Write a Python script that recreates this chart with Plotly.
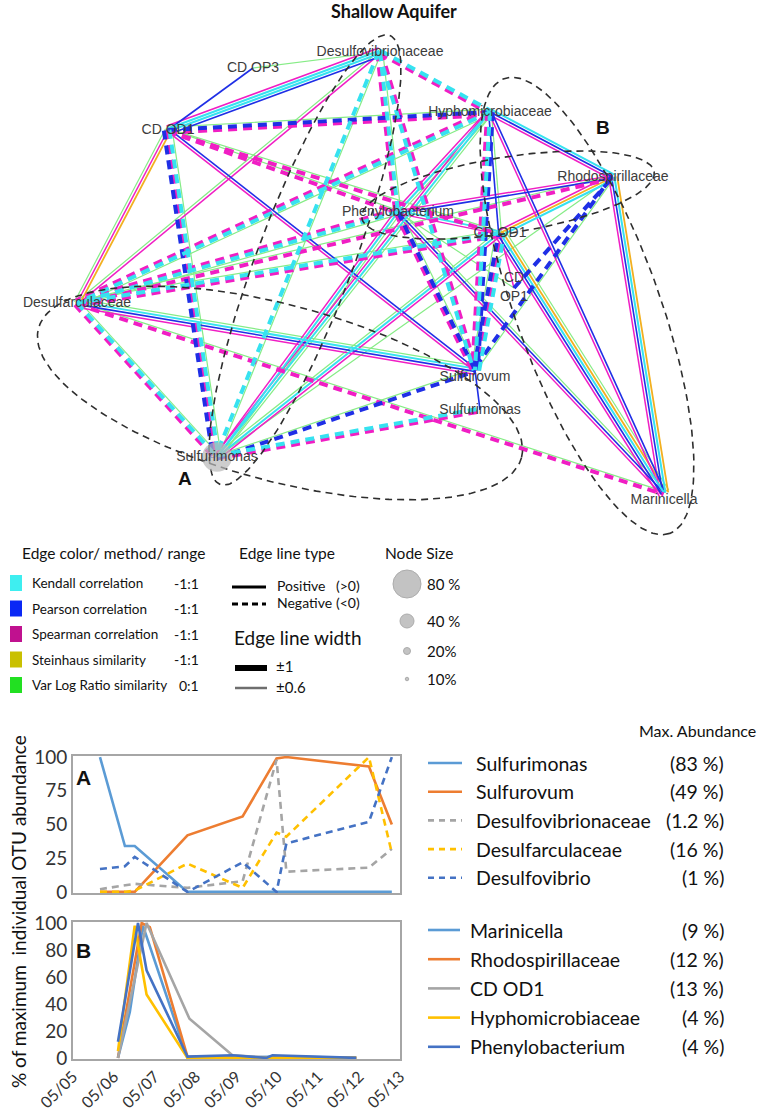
import numpy as np
import plotly.graph_objects as go

W, H = 764, 1116
NARROW = "Lato, sans-serif"
SANS = "Liberation Sans, Arial, sans-serif"

# ---------------- network data ----------------
node_ids = ["DV", "OP3", "OD1L", "HY", "RH", "PH", "OD1R", "OP1", "DF", "SV", "SM2", "SM", "MA"]
node_labels = ["Desulfovibrionaceae", "CD OP3", "CD OD1", "Hyphomicrobiaceae", "Rhodospirillaceae",
               "Phenylobacterium", "CD OD1", "CD<br>OP1", "Desulfarculaceae", "Sulfurovum",
               "Sulfurimonas", "Sulfurimonas", "Marinicella"]
node_x = [380, 253, 168, 490, 613, 398, 500, 514, 77, 475, 480, 217, 664]
node_y = [52, 68, 130, 112, 177, 212, 233, 288, 303, 370, 410, 457, 493]
node_pct = [0, 0, 12, 0, 0, 0, 0, 0, 0, 0, 0, 85, 0]
node_text_pos = ["middle center"] * 9 + ["bottom center", "middle center", "middle center", "bottom center"]

# edges: (node a, node b, methods with sign)  K=Kendall P=Pearson S=Spearman H=Steinhaus V=VarLogRatio
edges = [
    ("OD1L", "OP3", "P+"),
    ("DV", "OP3", "V+"),
    ("OD1L", "DV", "S+ K+ K+ P+"),
    ("OD1L", "HY", "V+ P- S-"),
    ("OD1L", "OD1R", "V+ S-"),
    ("OD1L", "DF", "H+ S+ V+"),
    ("OD1L", "SM", "V+ K- S- P-"),
    ("OD1L", "SV", "P+ S+"),
    ("OD1L", "PH", "V+ S-"),
    ("DV", "HY", "K- S-"),
    ("DV", "DF", "S+ V+"),
    ("DV", "SM", "V+ K-"),
    ("DV", "PH", "V+ K- S-"),
    ("DV", "SV", "S- K-"),
    ("HY", "RH", "K+ P+ S+"),
    ("HY", "DF", "V+ K- S-"),
    ("HY", "SM", "V+ K+ S+"),
    ("HY", "SV", "P- K- S-"),
    ("HY", "MA", "P+ S+"),
    ("HY", "OD1R", "V+ P+"),
    ("HY", "PH", "V+ K+ S+"),
    ("RH", "PH", "P+ S+"),
    ("RH", "DF", "S- V+"),
    ("RH", "OD1R", "K+ H+ S+"),
    ("RH", "MA", "H+ K+ P+ S+"),
    ("RH", "SV", "V+ P-"),
    ("PH", "DF", "V+ K- S-"),
    ("PH", "SM", "V+ K+ S+"),
    ("PH", "MA", "V+ P+ S+"),
    ("PH", "SV", "V+ P- S-"),
    ("PH", "OD1R", "K+ S+"),
    ("DF", "SV", "V+ K+ P+ S+"),
    ("DF", "SM", "V+ K- S-"),
    ("DF", "MA", "V+ S-"),
    ("DF", "OD1R", "V+ K- S-"),
    ("SM", "SV", "V+ P-"),
    ("SM", "SM2", "K- S-"),
    ("SM", "OD1R", "V+ K+ S+"),
    ("SM", "RH", "V+"),
    ("SV", "SM2", "P+"),
    ("SV", "OD1R", "V+ P- S- K-"),
    ("OD1R", "MA", "V+ H+ K+ P+ S+"),
    ("OD1R", "OP1", "S+"),
    ("OP1", "RH", "P-"),
    ("OP1", "PH", "V+"),
]

# grouping ellipses: centre x, centre y, semi-major, semi-minor, angle (deg)
groups = [
    (280, 393, 250, 88, 15),
    (305, 260, 240, 48, 110.7),
    (508, 195, 148, 38, -9),
    (587, 306, 242, 72, 70),
]

method_names = ["Kendall correlation", "Pearson correlation", "Spearman correlation",
                "Steinhaus similarity", "Var Log Ratio similarity"]
method_ranges = ["-1:1", "-1:1", "-1:1", "-1:1", "0:1"]
edge_colors = {"K": "#36E2F0", "P": "#1F2FE6", "S": "#F01EC4", "H": "#F2B020", "V": "#86EC86"}
square_colors = ["#3EEEF0", "#0A28F5", "#C0118F", "#C9C000", "#22E022"]
solid_width = {"K": 2.0, "P": 1.6, "S": 1.5, "H": 1.8, "V": 1.2}
node_size_pcts = [80, 40, 20, 10]
node_size_labels = ["80 %", "40 %", "20%", "10%"]

# ---------------- time-series data ----------------
tick_days = [5, 6, 7, 8, 9, 10, 11, 12, 13]
tick_labels = ["05/05", "05/06", "05/07", "05/08", "05/09", "05/10", "05/11", "05/12", "05/13"]

A_days = [5.66, 6.27, 6.51, 7.80, 9.15, 9.98, 10.22, 12.24, 12.80]
A_sulfurimonas = [100, 34, 34, 0, 0, 0, 0, 0, 0]
A_sulfurovum = [0, 0, 0, 42, 56, 99, 100, 93, 50]
A_desulfovibrionaceae = [2, 5, 6, 3, 8, 98, 15, 18, 32]
A_desulfarculaceae = [0, 0, 1, 21, 3, 44, 41, 100, 29]
A_desulfovibrio = [17, 19, 26, 0, 22, 0, 36, 52, 100]
A_names = ["Sulfurimonas", "Sulfurovum", "Desulfovibrionaceae", "Desulfarculaceae", "Desulfovibrio"]
A_maxab = ["(83 %)", "(49 %)", "(1.2 %)", "(16 %)", "(1 %)"]

B_marinicella_days = [6.10, 6.39, 6.71, 7.80, 8.90, 9.93, 11.93]
B_marinicella = [0, 34, 98, 0, 0, 1, 0]
B_rhodo_days = [6.10, 6.68, 6.88, 7.80, 8.90, 11.93]
B_rhodo = [0, 100, 97, 1, 0, 0]
B_cdod1_days = [6.10, 6.80, 7.85, 8.90, 9.93, 11.93]
B_cdod1 = [0, 100, 29, 2, 0, 0]
B_hypho_days = [6.10, 6.51, 6.80, 7.80, 8.90, 11.93]
B_hypho = [5, 98, 47, 0, 0, 0]
B_pheny_days = [6.10, 6.59, 6.80, 7.80, 8.90, 9.73, 9.88, 11.93]
B_pheny = [12, 100, 65, 1, 2, 0, 2, 0]
B_names = ["Marinicella", "Rhodospirillaceae", "CD OD1", "Hyphomicrobiaceae", "Phenylobacterium"]
B_maxab = ["(9 %)", "(12 %)", "(13 %)", "(4 %)", "(4 %)"]

line_colors = ["#5B9BD5", "#ED7D31", "#A5A5A5", "#FFC000", "#4472C4"]
A_dash = ["solid", "solid", "7px,5px", "7px,5px", "7px,5px"]

# ---------------- figure ----------------
fig = go.Figure()

# network edges
pos = dict(zip(node_ids, zip(node_x, node_y)))
segs = {}
for a, b, codes in edges:
    items = codes.split()
    n = len(items)
    (xa, ya), (xb, yb) = pos[a], pos[b]
    L = np.hypot(xb - xa, yb - ya)
    nx, ny = -(yb - ya) / L, (xb - xa) / L
    for i, it in enumerate(items):
        off = (i - (n - 1) / 2) * 2.8
        key = (it[0], it[1])
        lst = segs.setdefault(key, ([], []))
        lst[0].extend([xa + nx * off, xb + nx * off, None])
        lst[1].extend([ya + ny * off, yb + ny * off, None])

draw_order = [("V", "+"), ("H", "+"), ("S", "+"), ("P", "+"), ("K", "+"),
              ("V", "-"), ("S", "-"), ("P", "-"), ("K", "-")]
for key in draw_order:
    if key not in segs:
        continue
    xs, ys = segs[key]
    m, sgn = key
    if sgn == "+":
        line = dict(color=edge_colors[m], width=solid_width[m])
    else:
        line = dict(color=edge_colors[m], width=4, dash="9px,6px")
    fig.add_trace(go.Scatter(x=xs, y=ys, mode="lines", line=line, hoverinfo="skip",
                             showlegend=False, xaxis="x", yaxis="y"))

# grouping ellipses
ex, ey = [], []
t = np.linspace(0, 2 * np.pi, 200)
for cx, cy, a, b, ang in groups:
    r = np.deg2rad(ang)
    ux, uy = np.cos(r), np.sin(r)
    vx, vy = -np.sin(r), np.cos(r)
    ex.extend(list(cx + a * np.cos(t) * ux + b * np.sin(t) * vx) + [None])
    ey.extend(list(cy + a * np.cos(t) * uy + b * np.sin(t) * vy) + [None])
fig.add_trace(go.Scatter(x=ex, y=ey, mode="lines", line=dict(color="#2E2E2E", width=1.6, dash="7px,5px"),
                         hoverinfo="skip", showlegend=False, xaxis="x", yaxis="y"))

# nodes
node_colors = ["#B8B8B8"] * len(node_ids)
node_colors[node_ids.index("OD1L")] = "#3A48C8"
fig.add_trace(go.Scatter(x=node_x, y=node_y, mode="markers",
                         marker=dict(size=[p * 0.35 for p in node_pct], color=node_colors, line=dict(width=0)),
                         hoverinfo="skip", showlegend=False, xaxis="x", yaxis="y"))
fig.add_trace(go.Scatter(x=node_x, y=node_y, mode="text", text=node_labels, textposition=node_text_pos,
                         textfont=dict(family=SANS, size=14, color="#3C3C3C"),
                         hoverinfo="skip", showlegend=False, xaxis="x", yaxis="y"))

ann = []
shapes = []


def text(x, y, s, size=16, anchor="left", bold=False, color="#111111", family=NARROW, angle=0):
    ann.append(dict(x=x, y=y, xref="x", yref="y", text=("<b>%s</b>" % s) if bold else s, showarrow=False,
                    xanchor=anchor, yanchor="middle", textangle=angle,
                    font=dict(family=family, size=size, color=color)))


text(394, 11, "Shallow Aquifer", size=18, anchor="center", bold=True)
text(185, 478, "A", size=19, anchor="center", bold=True, family=SANS)
text(603, 127, "B", size=19, anchor="center", bold=True, family=SANS)

# edge legend
text(20, 553, "Edge color/ method/ range", size=15.5)
for i, (nm, rg, col) in enumerate(zip(method_names, method_ranges, square_colors)):
    y = 583 + i * 25.5
    shapes.append(dict(type="rect", xref="x", yref="y", x0=10, x1=22, y0=y - 8, y1=y + 8,
                       fillcolor=col, line=dict(width=0)))
    text(30, y, nm, size=13.5)
    text(201, y, rg, size=14, anchor="right")

text(237, 553, "Edge line type", size=15.5)
shapes.append(dict(type="line", xref="x", yref="y", x0=232, x1=266, y0=587, y1=587, line=dict(color="black", width=3)))
shapes.append(dict(type="line", xref="x", yref="y", x0=232, x1=266, y0=604, y1=604,
                   line=dict(color="black", width=3, dash="6px,4px")))
text(275, 585, "Positive", size=14)
text(334, 585, "(>0)", size=14)
text(275, 602, "Negative", size=14)
text(334, 602, "(<0)", size=14)
text(232, 637, "Edge line width", size=19)
shapes.append(dict(type="line", xref="x", yref="y", x0=235, x1=267, y0=668, y1=668, line=dict(color="black", width=6)))
shapes.append(dict(type="line", xref="x", yref="y", x0=235, x1=267, y0=688, y1=688, line=dict(color="#6E6E6E", width=2.5)))
text(274, 666, "±1", size=15)
text(274, 687, "±0.6", size=15)

text(383, 553, "Node Size", size=15.5)
ns_y = [584, 621, 651, 679]
fig.add_trace(go.Scatter(x=[407] * 4, y=ns_y, mode="markers",
                         marker=dict(size=[p * 0.35 for p in node_size_pcts], color="#AAAAAA",
                                     line=dict(color="#8A8A8A", width=1)),
                         hoverinfo="skip", showlegend=False, xaxis="x", yaxis="y"))
for y, s in zip(ns_y, node_size_labels):
    text(425, y, s, size=15)

# ---------------- time-series ----------------
A_series = [A_sulfurimonas, A_sulfurovum, A_desulfovibrionaceae, A_desulfarculaceae, A_desulfovibrio]
for vals, nm, col, dsh in zip(A_series, A_names, line_colors, A_dash):
    fig.add_trace(go.Scatter(x=A_days, y=vals, mode="lines", name=nm, line=dict(color=col, width=2.6, dash=dsh),
                             showlegend=False, xaxis="x2", yaxis="y2"))

B_series = [(B_marinicella_days, B_marinicella), (B_rhodo_days, B_rhodo), (B_cdod1_days, B_cdod1),
            (B_hypho_days, B_hypho), (B_pheny_days, B_pheny)]
for (dx, vals), nm, col in zip(B_series, B_names, line_colors):
    fig.add_trace(go.Scatter(x=dx, y=vals, mode="lines", name=nm, line=dict(color=col, width=2.6),
                             showlegend=False, xaxis="x3", yaxis="y3"))

text(758, 730, "Max. Abundance", size=16, anchor="right")
for i, (nm, pc, col, dsh) in enumerate(zip(A_names, A_maxab, line_colors, A_dash)):
    y = 763 + i * 28.7
    shapes.append(dict(type="line", xref="x", yref="y", x0=428, x1=462, y0=y, y1=y,
                       line=dict(color=col, width=2.6, dash=dsh if dsh == "solid" else "6px,5px")))
    text(474, y, nm, size=19.5)
    text(726, y, pc, size=19.5, anchor="right")
for i, (nm, pc, col) in enumerate(zip(B_names, B_maxab, line_colors)):
    y = 930 + i * 29.2
    shapes.append(dict(type="line", xref="x", yref="y", x0=428, x1=460, y0=y, y1=y,
                       line=dict(color=col, width=2.6)))
    text(468, y, nm, size=19.5)
    text(726, y, pc, size=19.5, anchor="right")

text(18, 912, "% of maximum  individual OTU abundance", size=19, anchor="center", angle=-90)
text(83, 777, "A", size=21, anchor="center", bold=True, family=SANS)
text(83, 950, "B", size=21, anchor="center", bold=True, family=SANS)


def py(p):
    return 1 - p / H


frame = dict(showline=True, mirror=True, linecolor="#A6A6A6", linewidth=2, showgrid=False, zeroline=False,
             ticks="", automargin=False, tickfont=dict(family="Lato, sans-serif", size=19, color="#333333"))
xframe = dict(frame, tickfont=dict(family="Lato, sans-serif", size=16, color="#333333"))

fig.update_layout(
    width=W, height=H, margin=dict(l=0, r=0, t=0, b=0, pad=0),
    paper_bgcolor="white", plot_bgcolor="rgba(0,0,0,0)",
    xaxis=dict(domain=[0, 1], range=[0, W], visible=False, fixedrange=True, automargin=False),
    yaxis=dict(domain=[0, 1], range=[H, 0], visible=False, fixedrange=True, automargin=False),
    xaxis2=dict(domain=[73 / W, 400 / W], range=[5, 13], anchor="y2", showticklabels=False, **frame),
    yaxis2=dict(domain=[py(893), py(756)], range=[-0.8, 100.8], anchor="x2",
                tickvals=[0, 25, 50, 75, 100], **frame),
    xaxis3=dict(domain=[73 / W, 400 / W], range=[5, 13], anchor="y3", tickvals=tick_days, ticktext=tick_labels,
                tickangle=-45, **xframe),
    yaxis3=dict(domain=[py(1059), py(922)], range=[-0.8, 100.8], anchor="x3",
                tickvals=[0, 20, 40, 60, 80, 100], **frame),
    annotations=ann, shapes=shapes, showlegend=False,
)
fig.write_html("out.html", config={"displayModeBar": False},
               post_script="document.body.style.margin='0px';document.body.style.overflow='hidden';")
